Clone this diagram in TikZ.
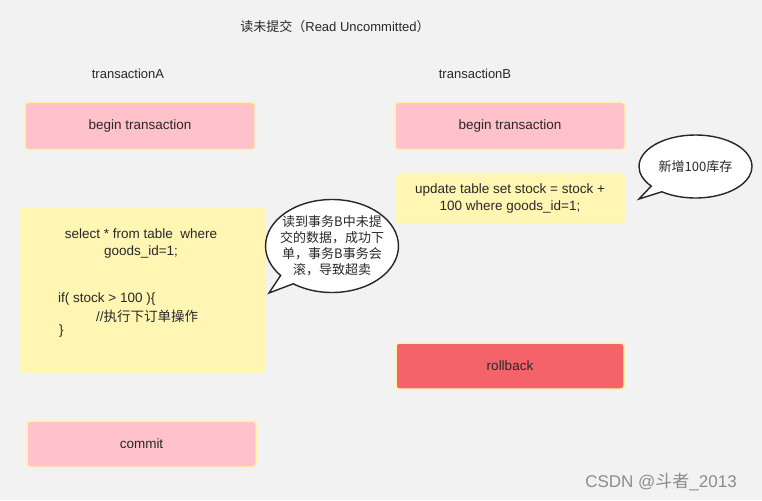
\documentclass[tikz,border=0pt]{standalone}
\usepackage{fontspec}
\setmainfont{Liberation Sans}
\newfontfamily\cjk{Noto Sans CJK SC}
\usetikzlibrary{shapes.callouts}
\definecolor{cBg}{HTML}{F2F2F2}
\definecolor{cPink}{HTML}{FFC1CA}
\definecolor{cYellow}{HTML}{FFF6B3}
\definecolor{cRed}{HTML}{F5636A}
\definecolor{cRim}{HTML}{FFF3A6}
\definecolor{cText}{HTML}{282828}

\tikzset{
  stepbox/.style={rounded corners=3pt, inner sep=0pt, text=cText,
    font=\fontsize{13.5}{17}\selectfont, align=center},
  pinkstep/.style={stepbox, fill=cPink, draw=cRim, line width=1.5pt},
  yellowstep/.style={stepbox, fill=cYellow},
  redstep/.style={stepbox, fill=cRed, draw=cRim, line width=1.5pt},
  label/.style={text=cText, font=\fontsize{13}{15}\selectfont},
  codeline/.style={text=cText, font=\fontsize{13.5}{17}\selectfont, inner sep=0pt},
  bubble/.style={ellipse callout, draw=black!85, line width=1.4pt, fill=white,
    text=cText, inner sep=0pt, align=center, font=\cjk\fontsize{13}{16}\selectfont}
}

\begin{document}
\begin{tikzpicture}[x=1pt, y=-1pt]
  \fill[cBg] (0,0) rectangle (762,500);
  \useasboundingbox (0,0) rectangle (762,500);

  % titres
  \node[label] (title) at (335,27) {{\cjk 读未提交（}Read Uncommitted{\cjk ）}};
  \node[label] (colA) at (128,74) {transactionA};
  \node[label] (colB) at (475,74) {transactionB};

  % transaction A
  \node[pinkstep, minimum width=230pt, minimum height=47pt] (beginA) at (140,126) {begin transaction};
  \node[yellowstep, minimum width=246pt, minimum height=165pt] (sel) at (142,290.5) {};
  \node[codeline, align=center] (selq) at (141,243.5) {select * from table\ \ where\\goods\_id=1;};
  \node[codeline, anchor=west] (ifl) at (58,299) {if( stock > 100 )\{};
  \node[codeline, anchor=west] (cmt) at (96,316) {//{\cjk 执行下订单操作}};
  \node[codeline, anchor=west] (brc) at (59,331) {\}};
  \node[pinkstep, minimum width=229pt, minimum height=46pt] (commit) at (141.5,444) {commit};

  % transaction B
  \node[pinkstep, minimum width=230pt, minimum height=47pt] (beginB) at (510,126) {begin transaction};
  \node[yellowstep, minimum width=230pt, minimum height=49pt] (upd) at (510,198.5) {update table set stock = stock +\\100 where goods\_id=1;};
  \node[redstep, minimum width=228pt, minimum height=46pt] (rollback) at (510,366) {rollback};

  % bulles
  \coordinate (tipA) at (269,293);
  \coordinate (tipB) at (639,199);
  \node[bubble, inner xsep=-5pt, minimum width=126pt, minimum height=93pt,
    callout absolute pointer={(tipA)}] (noteA) at (332,246)
    {读到事务B中未提\\交的数据，成功下\\单，事务B事务会\\滚，导致超卖};
  \node[bubble, minimum width=113pt, minimum height=63pt,
    callout absolute pointer={(tipB)}] (noteB) at (695.5,166.5) {新增100库存};

  % filigrane
  \node[text=black!45, font=\fontsize{17}{19}\selectfont] (mark) at (661,482) {CSDN @{\cjk 斗者}\_2013};
\end{tikzpicture}
\end{document}
